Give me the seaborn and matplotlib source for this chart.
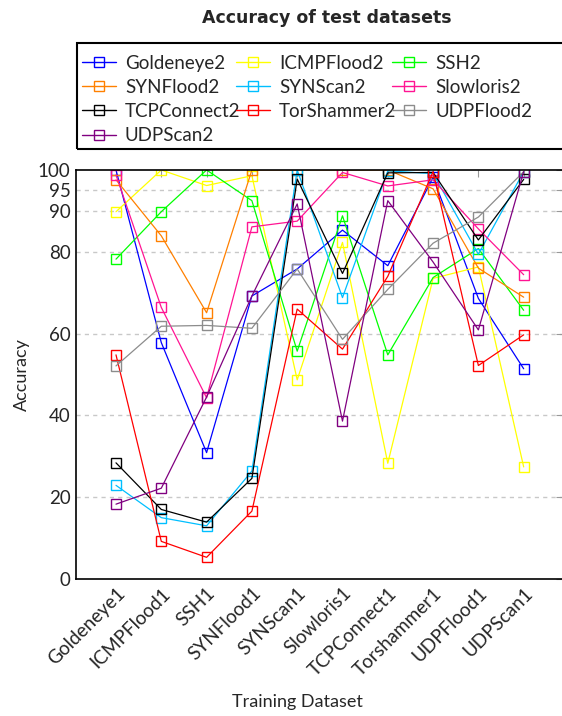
import matplotlib
matplotlib.use("Agg")
import matplotlib.pyplot as plt
from matplotlib.lines import Line2D
from matplotlib.patches import Rectangle
import seaborn as sns
import pandas as pd

train = ["Goldeneye1", "ICMPFlood1", "SSH1", "SYNFlood1", "SYNScan1",
         "Slowloris1", "TCPConnect1", "Torshammer1", "UDPFlood1", "UDPScan1"]

series_names = ["Goldeneye2", "ICMPFlood2", "SSH2", "SYNFlood2", "SYNScan2",
                "Slowloris2", "TCPConnect2", "TorShammer2", "UDPFlood2", "UDPScan2"]

goldeneye2 = [100, 57.8, 30.9, 69.2, 75.8, 85.3, 76.6, 98.2, 68.6, 51.4]
icmpflood2 = [89.8, 100, 96.2, 98.6, 48.7, 82.3, 28.3, 73.5, 76.3, 27.4]
ssh2 = [78.2, 89.8, 100, 92.5, 55.7, 88.8, 54.8, 73.7, 80.8, 65.7]
synflood2 = [97.6, 83.9, 65.1, 100, 100, 100, 100, 95.4, 76.0, 68.9]
synscan2 = [22.9, 15.0, 13.0, 26.4, 100, 68.8, 99.8, 99.1, 79.4, 99.6]
slowloris2 = [98.8, 66.4, 44.3, 86.1, 87.5, 99.4, 96.1, 97.6, 85.6, 74.4]
tcpconnect2 = [28.4, 17.0, 13.9, 24.6, 97.8, 74.7, 99.3, 99.4, 82.9, 97.7]
torshammer2 = [54.8, 9.2, 5.3, 16.6, 66.0, 56.2, 74.0, 99.6, 52.2, 59.7]
udpflood2 = [52.1, 61.8, 62.0, 61.3, 75.8, 58.6, 70.8, 82.1, 88.5, 99.6]
udpscan2 = [18.3, 22.2, 44.5, 69.2, 91.7, 38.6, 92.5, 77.5, 60.9, 99.6]

yticks = [0, 20, 40, 60, 80, 90, 95, 100]

colors = ["#0000ff", "#ffff00", "#00ff00", "#ff8000", "#00bfff",
          "#ff1493", "#000000", "#ff0000", "#8c8c8c", "#800080"]

values = [goldeneye2, icmpflood2, ssh2, synflood2, synscan2,
          slowloris2, tcpconnect2, torshammer2, udpflood2, udpscan2]

rows = []
for name, vals in zip(series_names, values):
    for t, v in zip(train, vals):
        rows.append({"Training Dataset": t, "Accuracy": v, "Test": name})
df = pd.DataFrame(rows)

sns.set_style("white")
plt.rcParams["font.family"] = ["Lato", "DejaVu Sans"]

fig = plt.figure(figsize=(5.62, 7.16), dpi=100)
ax = fig.add_axes([76 / 562, 1 - 579 / 716, (563 - 76) / 562, (579 - 170) / 716])

palette = dict(zip(series_names, colors))
sns.lineplot(data=df, x="Training Dataset", y="Accuracy", hue="Test",
             hue_order=series_names, palette=palette, marker="s",
             markersize=7.5, linewidth=0.9, sort=False, legend=False, ax=ax)

for line, c in zip(ax.lines, colors):
    line.set_markerfacecolor("none")
    line.set_markeredgecolor(c)
    line.set_markeredgewidth(1.0)

ax.set_xlim(-0.883, 9.868)
ax.set_ylim(0, 100)
ax.set_yticks(yticks)
ax.set_yticklabels([str(v) for v in yticks], fontsize=13.5)
ax.set_xticks(range(len(train)))
ax.set_xticklabels(train, rotation=45, ha="right", rotation_mode="anchor", fontsize=13.6)
for y in yticks[1:-1]:
    ax.axhline(y, color="#c8c8c8", linestyle=(0, (3, 3)), linewidth=1.0, zorder=0)

ax.tick_params(axis="both", direction="in", length=5, color="#999999",
               top=True, right=True, pad=4)
for s in ax.spines.values():
    s.set_color("black")
    s.set_linewidth(1.2)

ax.set_ylabel("Accuracy", fontsize=13)
ax.set_xlabel("Training Dataset", fontsize=13)
ax.xaxis.set_label_coords(0.454, -0.28)
ax.yaxis.set_label_coords(-0.095, 0.5)

fig.text(327 / 562, 1 - 18 / 716, "Accuracy of test datasets", ha="center", va="center",
         fontsize=12.5, fontweight="bold", family="DejaVu Sans")

# legend frame extending past the right edge, as in the reference
fig.patches.append(Rectangle((77 / 562, 1 - 149 / 716), 500 / 562, 106 / 716,
                             transform=fig.transFigure, fill=False,
                             edgecolor="black", linewidth=1.5))

order = [0, 3, 6, 9, 1, 4, 7, 2, 5, 8]
handles = [Line2D([], [], color=colors[i], marker="s", markerfacecolor="none",
                  markeredgecolor=colors[i], markersize=7.5, linewidth=1.0) for i in order]
labels = [series_names[i] for i in order]
leg = fig.legend(handles, labels, ncol=3, loc="upper left",
                 bbox_to_anchor=(78 / 562, 1 - 51 / 716),
                 borderaxespad=0, fontsize=13.5, frameon=False,
                 handlelength=1.8, handletextpad=0.5, labelspacing=0.38,
                 columnspacing=-0.23, numpoints=1, borderpad=0.2)

fig.savefig("out.png", dpi=100)
